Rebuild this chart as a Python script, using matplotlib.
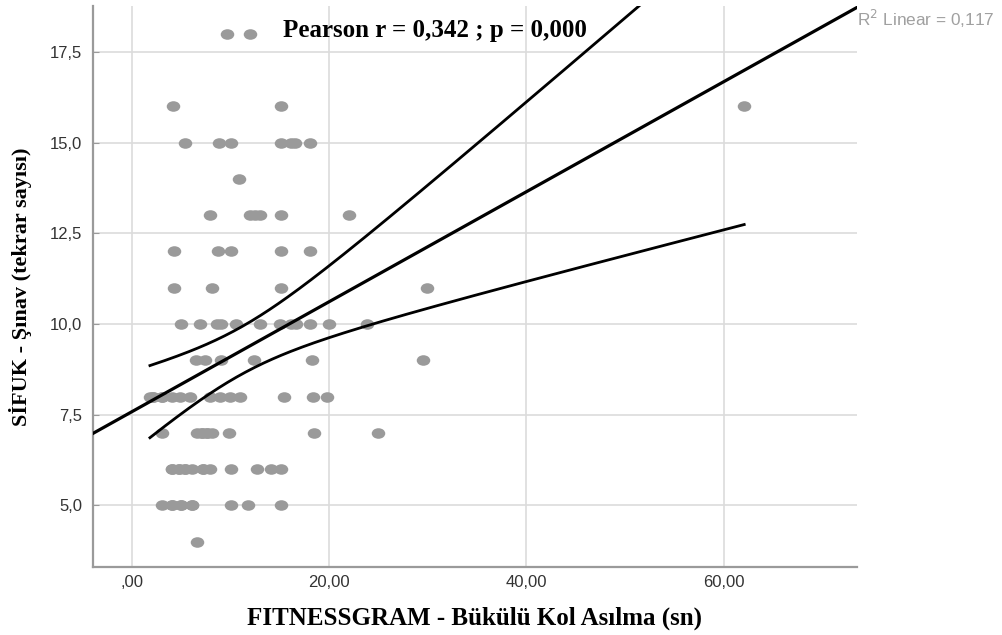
import numpy as np
import matplotlib
matplotlib.use("Agg")
import matplotlib.pyplot as plt
from matplotlib.path import Path
from matplotlib.ticker import FuncFormatter

# Bükülü kol asılma süresi (sn) ve şınav tekrar sayısı, satır satır
hang_time = [
    9.6, 12.0,
    4.1, 15.1, 62.1,
    5.4, 8.8, 10.0, 15.1, 16.1, 16.5, 18.0,
    10.8,
    7.9, 12.0, 12.5, 13.0, 15.1, 22.0,
    4.2, 8.7, 10.0, 15.1, 18.0,
    4.2, 8.1, 15.1, 29.9,
    5.0, 6.9, 8.6, 9.0, 10.5, 13.0, 15.0, 16.1, 16.6, 18.0, 20.0, 23.8,
    6.5, 7.4, 9.0, 12.4, 18.2, 29.5,
    1.8, 2.1, 2.1, 3.0, 3.0, 4.0, 4.9, 5.9, 7.9, 8.9, 9.9, 10.9, 15.4, 18.3, 19.8,
    3.0, 6.6, 7.1, 7.1, 7.6, 7.6, 8.1, 9.8, 18.4, 24.9,
    4.0, 4.0, 4.7, 4.7, 5.4, 5.4, 6.1, 7.2, 7.2, 7.9, 10.0, 12.7, 14.1, 15.1,
    3.0, 4.0, 4.0, 5.0, 5.0, 6.1, 6.1, 10.0, 11.7, 15.1,
    6.6,
]
pushups = (
    [18] * 2 + [16] * 3 + [15] * 7 + [14] * 1 + [13] * 6 + [12] * 5 + [11] * 4
    + [10] * 12 + [9] * 6 + [8] * 15 + [7] * 10 + [6] * 14 + [5] * 10 + [4] * 1
)

pearson_text = "Pearson r = 0,342 ; p = 0,000"
r2_text = "R$^2$ Linear = 0,117"

x_ticks = [0, 20, 40, 60]
y_ticks = [5.0, 7.5, 10.0, 12.5, 15.0, 17.5]


def x_fmt(v, pos):
    s = ("%.2f" % v).replace(".", ",")
    return s[1:] if s.startswith("0") else s


def y_fmt(v, pos):
    return ("%.1f" % v).replace(".", ",")


x = np.array(hang_time)
y = np.array(pushups)
n = len(x)

# least squares fit and 95% confidence band for the mean
slope, intercept = np.polyfit(x, y, 1)
resid = y - (intercept + slope * x)
s = np.sqrt(np.sum(resid ** 2) / (n - 2))
sxx = np.sum((x - x.mean()) ** 2)
t_crit = 1.99

fig = plt.figure(figsize=(10.03, 6.35), dpi=100)
ax = fig.add_axes([0.093, 0.107, 0.761, 0.884])

x_lo, x_hi = -3.95, 73.5
ax.set_xlim(x_lo, x_hi)
ax.set_ylim(3.3, 18.77)

ax.grid(True, color="#dcdcdc", linewidth=1.2)
ax.set_axisbelow(True)
for side in ["top", "right"]:
    ax.spines[side].set_visible(False)
for side in ["left", "bottom"]:
    ax.spines[side].set_color("#9a9a9a")
    ax.spines[side].set_linewidth(1.6)

# slightly flattened dots
circle = Path.unit_circle()
dot = Path(circle.vertices * [1.0, 0.78], circle.codes)
ax.scatter(x, y, s=95, marker=dot, color="#9a9a9a", linewidths=0, zorder=3)

xs = np.linspace(x_lo, x_hi, 200)
ax.plot(xs, intercept + slope * xs, color="black", linewidth=2.3, zorder=4)

xb = np.linspace(x.min(), x.max(), 200)
half = t_crit * s * np.sqrt(1 / n + (xb - x.mean()) ** 2 / sxx)
fit_b = intercept + slope * xb
ax.plot(xb, fit_b + half, color="black", linewidth=2.0, zorder=4)
ax.plot(xb, fit_b - half, color="black", linewidth=2.0, zorder=4)

ax.set_xticks(x_ticks)
ax.set_yticks(y_ticks)
ax.xaxis.set_major_formatter(FuncFormatter(x_fmt))
ax.yaxis.set_major_formatter(FuncFormatter(y_fmt))
for lab in ax.get_xticklabels() + ax.get_yticklabels():
    lab.set_fontfamily("Liberation Sans")
    lab.set_fontsize(12)
    lab.set_color("#333333")
ax.tick_params(axis="x", length=0, pad=6)
ax.tick_params(axis="y", length=4, direction="in", color="#9a9a9a", pad=8)

ax.set_xlabel("FITNESSGRAM - Bükülü Kol Asılma (sn)", family="Liberation Serif",
              fontweight="bold", fontsize=18, labelpad=12)
ax.set_ylabel("SİFUK - Şınav (tekrar sayısı)", family="Liberation Serif",
              fontweight="bold", fontsize=16, labelpad=13)

ax.text(15.3, 18.1, pearson_text, family="Liberation Serif", fontweight="bold",
        fontsize=18, ha="left", va="center", zorder=5)

y_end = intercept + slope * x_hi
ax.text(1.001, y_end, r2_text, transform=ax.get_yaxis_transform(),
        family="Liberation Sans", fontsize=12.4, color="#a0a0a0",
        ha="left", va="top", clip_on=False)

fig.savefig("out.png", dpi=100)
